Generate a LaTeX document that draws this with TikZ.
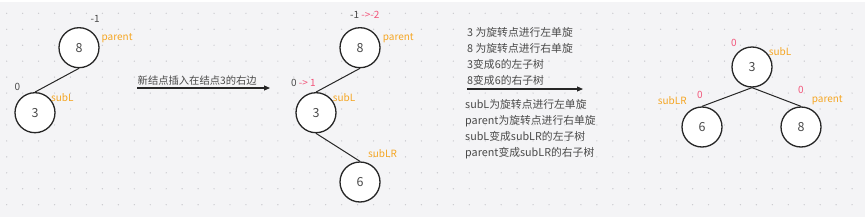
\documentclass[tikz,border=0pt]{standalone}
\usepackage{fontspec}
\setmainfont{Noto Sans CJK SC}
\usepackage{xcolor}
\definecolor{bgc}{HTML}{F4F4F6}
\definecolor{dotc}{HTML}{C9C9CE}
\definecolor{txtc}{HTML}{4A4A4A}
\definecolor{orng}{HTML}{F5A623}
\definecolor{pnk}{HTML}{F2557A}
\definecolor{edgec}{HTML}{262626}
\usepackage{tikz}
\usetikzlibrary{arrows.meta,positioning}

\begin{document}
\begin{tikzpicture}[
  x=1pt,y=-1pt,
  tnode/.style={circle,draw=edgec,line width=1.3pt,fill=white,minimum size=40pt,inner sep=0pt,text=txtc,font=\fontsize{12.5}{13}\selectfont},
  lbl/.style={text=orng,inner sep=0pt,anchor=west,font=\fontsize{10}{12}\selectfont},
  bf/.style={text=txtc,inner sep=0pt,font=\fontsize{10}{12}\selectfont},
  note/.style={text=txtc,inner sep=0pt,anchor=west,align=left,font=\fontsize{10.8}{16}\selectfont},
  link/.style={draw=edgec,line width=1pt},
  arrow/.style={-{Triangle[length=6pt,width=5pt]},draw=edgec,line width=1.1pt}
]
  % Background and dot grid
  \useasboundingbox (0,0) rectangle (865,217);
  \fill[white] (0,0) rectangle (865,217);
  \fill[bgc] (0,2) rectangle (865,217);
  \foreach \i in {0,...,54}
    \foreach \j in {0,...,12}
      \fill[dotc] (6.7+15.95*\i,13.3+15.95*\j) circle (0.7);

  % Step 1: before insertion
  \node[tnode] (a8) at (79,47.7) {8};
  \node[tnode] (a3) at (35,112.7) {3};
  \node[bf,anchor=west] (a8bf) at (90.5,19) {-1};
  \node[lbl] (a8lb) at (101.5,38) {parent};
  \node[bf] (a3bf) at (17.3,87) {0};
  \node[lbl] (a3lb) at (51,98) {subL};
  \draw[link] (a8.south) -- (a3.north);

  % Arrow 1
  \node[note,anchor=west,font=\fontsize{10.3}{12}\selectfont] (s1) at (137.5,81) {新结点插入在结点3的右边};
  \coordinate (s1a) at (137,88);
  \coordinate (s1b) at (270,88);
  \draw[arrow] (s1a) -- (s1b);

  % Step 2: after insertion
  \node[tnode] (b8) at (360,47.7) {8};
  \node[tnode] (b3) at (316,112.7) {3};
  \node[tnode] (b6) at (360,182) {6};
  \node[bf,anchor=west] (b8bf) at (350,14.5) {-1 \textcolor{pnk}{->-2}};
  \node[lbl] (b8lb) at (382.7,38) {parent};
  \node[bf,anchor=west] (b3bf) at (291,83) {0 \textcolor{pnk}{-> 1}};
  \node[lbl] (b3lb) at (332.7,98) {subL};
  \node[lbl] (b6lb) at (368,154) {subLR};
  \draw[link] (b8.south) -- (b3.north);
  \draw[link] (b3.south) -- (b6.north);

  % Arrow 2 with rotation notes
  \node[note] (n1) at (467,56) {3 为旋转点进行左单旋\\8 为旋转点进行右单旋\\3变成6的左子树\\8变成6的右子树};
  \coordinate (s2a) at (467,89);
  \coordinate (s2b) at (583,89);
  \draw[arrow] (s2a) -- (s2b);
  \node[note] (n2) at (465,129) {subL为旋转点进行左单旋\\parent为旋转点进行右单旋\\subL变成subLR的左子树\\parent变成subLR的右子树};

  % Step 3: after double rotation
  \node[tnode] (c3) at (752,67) {3};
  \node[tnode] (c6) at (702,127) {6};
  \node[tnode] (c8) at (801,127) {8};
  \node[bf,text=pnk] (c3bf) at (734,43) {0};
  \node[lbl] (c3lb) at (768.7,52) {subL};
  \node[bf,text=pnk] (c6bf) at (700,95) {0};
  \node[lbl] (c6lb) at (657.7,101) {subLR};
  \node[bf,text=pnk] (c8bf) at (801,90) {0};
  \node[lbl] (c8lb) at (811.7,100) {parent};
  \draw[link] (c3.south) -- (c6.north);
  \draw[link] (c3.south) -- (c8.north);
\end{tikzpicture}
\end{document}
